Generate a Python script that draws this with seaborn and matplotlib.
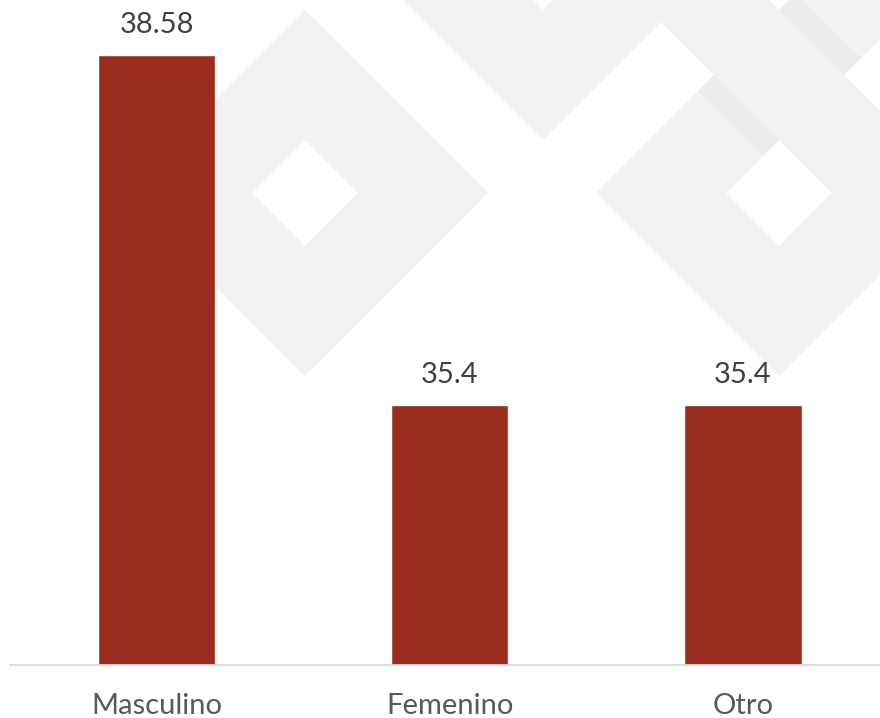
import matplotlib.pyplot as plt
import pandas as pd
import seaborn as sns
from matplotlib.path import Path
from matplotlib.patches import PathPatch, Polygon

categorias = ['Masculino', 'Femenino', 'Otro']
valores = [38.58, 35.4, 35.4]

sns.set_style('white')
plt.rcParams['font.family'] = ['Lato', 'DejaVu Sans']

fig = plt.figure(figsize=(8.8, 7.18), dpi=100)

# marca de agua de fondo (rombos)
bg = fig.add_axes([0, 0, 1, 1], zorder=0)
bg.set_xlim(0, 880)
bg.set_ylim(718, 0)
bg.axis('off')


def rombo(cx, cy, h):
    return [(cx, cy - h), (cx + h, cy), (cx, cy + h), (cx - h, cy), (cx, cy - h)]


codigos = [Path.MOVETO] + [Path.LINETO] * 3 + [Path.CLOSEPOLY]
for cx, cy in [(305, 193), (543, -43), (779, 193), (779, -43)]:
    verts = rombo(cx, cy, 183) + rombo(cx, cy, 53)[::-1]
    bg.add_patch(PathPatch(Path(verts, codigos * 2), facecolor='#f2f2f2', edgecolor='none'))

for poly in [[(698, 91), (714, 75), (779, 140), (763, 156)],
             [(779, 10), (796, -7), (861, 58), (844, 75)]]:
    bg.add_patch(Polygon(poly, closed=True, facecolor='#ebebeb', edgecolor='none'))

# grafico
ax = fig.add_axes([10 / 880, 53 / 718, 870 / 880, 665 / 718], zorder=1)
ax.patch.set_alpha(0)

df = pd.DataFrame({'Sexo': categorias, 'Valor': valores})
sns.barplot(data=df, x='Sexo', y='Valor', color='#9a2c20', width=0.4,
            saturation=1, ax=ax)

ax.set_ylim(33.04, 39.08)
ax.set_xlim(-0.5, 2.467)
ax.set_yticks([])
ax.set_xlabel('')
ax.set_ylabel('')
for s in ['left', 'top', 'right']:
    ax.spines[s].set_visible(False)
ax.spines['bottom'].set_color('#d9d9d9')
ax.spines['bottom'].set_linewidth(1.3)
ax.tick_params(axis='x', length=0, pad=20, labelsize=21, labelcolor='#595959')

ax.bar_label(ax.containers[0], fmt='%g', padding=12, fontsize=21, color='#404040')

fig.savefig('out.png', dpi=100)
